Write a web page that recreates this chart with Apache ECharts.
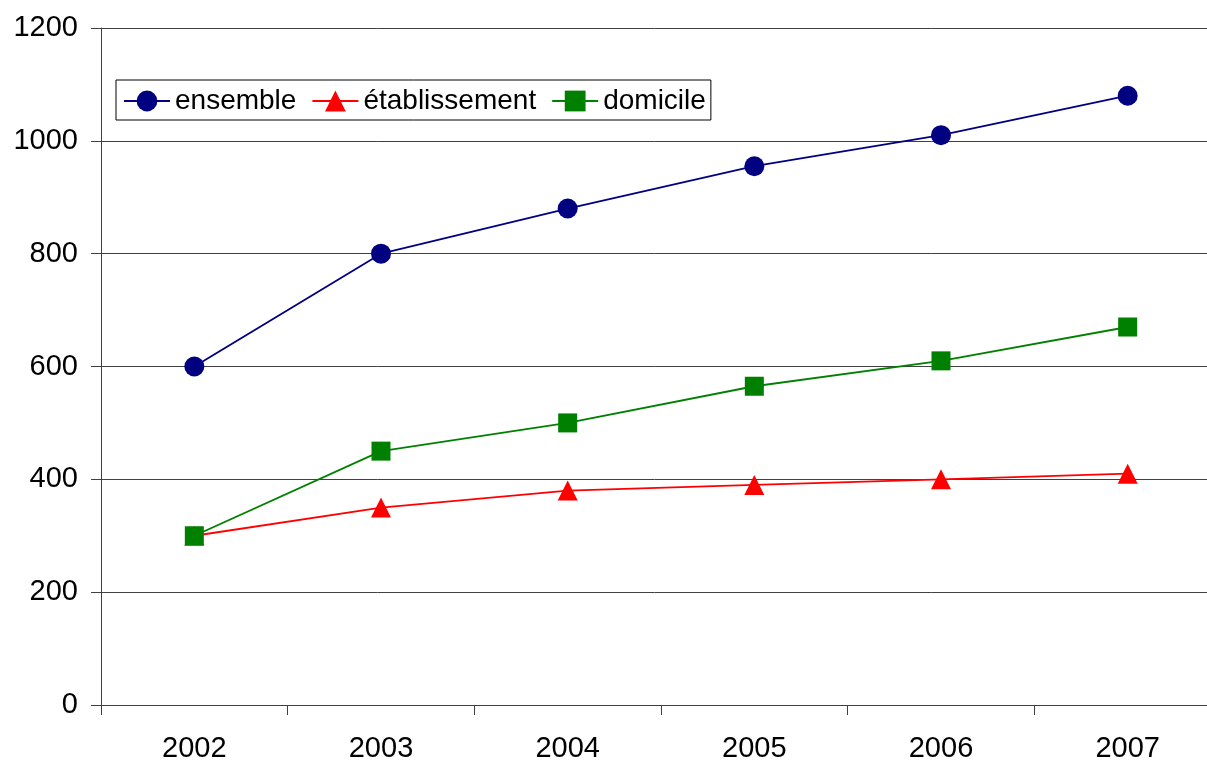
<!DOCTYPE html>
<html>
<head>
<meta charset="utf-8">
<script src="https://cdn.jsdelivr.net/npm/echarts@6/dist/echarts.min.js"></script>
<style>
  html, body { margin: 0; padding: 0; background: #ffffff; }
  #chart { width: 1207px; height: 761px; }
</style>
</head>
<body>
<div id="chart"></div>
<script>
// Years on the horizontal axis
const years = ['2002', '2003', '2004', '2005', '2006', '2007'];

// Series values per year
const ensemble = [600, 800, 880, 955, 1010, 1080];
const etablissement = [300, 350, 380, 390, 400, 410];
const domicile = [300, 450, 500, 565, 610, 670];

// Vertical axis range
const yMin = 0;
const yMax = 1200;
const yStep = 200;

const font = 'Liberation Sans, Arial, sans-serif';
const axisColor = '#404040';

const chart = echarts.init(document.getElementById('chart'), null, { renderer: 'canvas' });

function lineSeries(name, data, color, symbol, size) {
  return {
    name: name,
    type: 'line',
    data: data,
    symbol: symbol,
    symbolSize: size,
    showAllSymbol: true,
    animation: false,
    lineStyle: { color: color, width: 1.8 },
    itemStyle: { color: color, borderWidth: 0 },
    emphasis: { disabled: true }
  };
}

chart.setOption({
  backgroundColor: '#ffffff',
  animation: false,
  // the plot runs a little past the right edge of the canvas
  grid: {
    left: 101, top: 28, width: 1120, height: 677,
    containLabel: false, outerBoundsMode: 'none'
  },
  legend: {
    left: 116,
    top: 80,
    orient: 'horizontal',
    padding: [7, 5, 5, 7],
    itemGap: 15,
    itemWidth: 46,
    itemHeight: 26,
    borderColor: '#000000',
    borderWidth: 1,
    backgroundColor: '#ffffff',
    textStyle: { fontFamily: font, fontSize: 28, color: '#000000', lineHeight: 28 },
    data: ['ensemble', 'établissement', 'domicile']
  },
  xAxis: {
    type: 'category',
    data: years,
    boundaryGap: true,
    axisLine: { show: true, lineStyle: { color: axisColor, width: 1 } },
    axisTick: { show: true, inside: false, length: 10, lineStyle: { color: axisColor } },
    axisLabel: { fontFamily: font, fontSize: 29, color: '#000000', margin: 29 },
    splitLine: { show: false }
  },
  yAxis: {
    type: 'value',
    min: yMin,
    max: yMax,
    interval: yStep,
    axisLine: { show: true, lineStyle: { color: axisColor, width: 1 } },
    axisTick: { show: true, inside: false, length: 10, lineStyle: { color: axisColor } },
    axisLabel: {
      fontFamily: font, fontSize: 29, color: '#000000', margin: 23,
      formatter: function (v) { return String(v); }
    },
    splitLine: { show: true, lineStyle: { color: axisColor, width: 1 } }
  },
  series: [
    lineSeries('ensemble', ensemble, '#000080', 'circle', 20),
    lineSeries('établissement', etablissement, '#ff0000', 'triangle', 20),
    lineSeries('domicile', domicile, '#008000', 'rect', 19)
  ]
});
</script>
</body>
</html>
